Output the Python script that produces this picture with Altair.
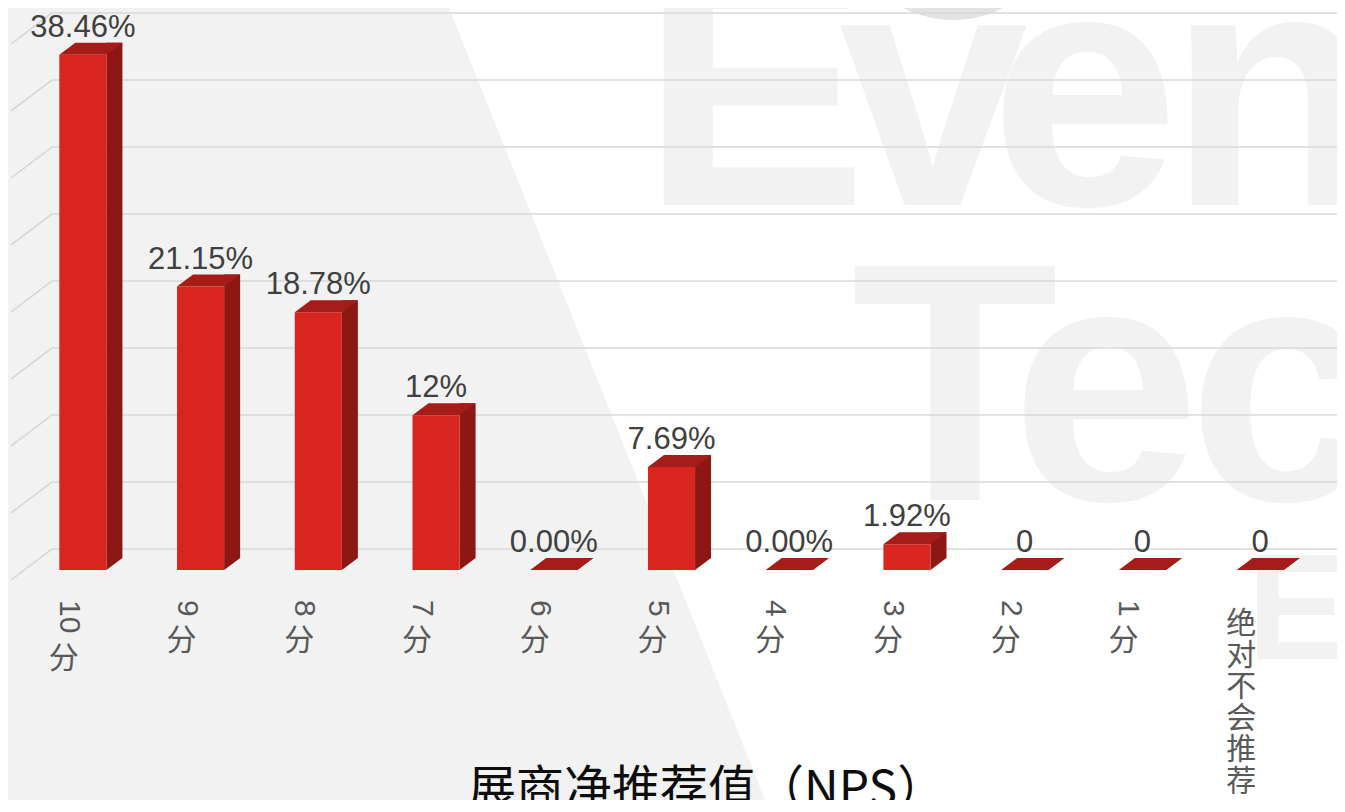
import altair as alt
import pandas as pd

# ---------------- data ----------------
categories = ["10分", "9分", "8分", "7分", "6分", "5分", "4分", "3分", "2分", "1分", "绝对不会推荐"]
values = [38.46, 21.15, 19.23, 11.54, 0, 7.69, 0, 1.92, 0, 0, 0]
value_labels = ["38.46%", "21.15%", "18.78%", "12%", "0.00%", "7.69%", "0.00%", "1.92%", "0", "0", "0"]
label_digits = ["10", "9", "8", "7", "6", "5", "4", "3", "2", "1", ""]
label_cjk = ["分"] * 10 + ["绝\n对\n不\n会\n推\n荐"]
grid_values = [0, 5, 10, 15, 20, 25, 30, 35, 40]
title_text = "展商净推荐值（NPS）"
watermark_letters = ["E", "v", "e", "n", "T", "e", "c", "E"]

df = pd.DataFrame({
    "cat": categories,
    "val": values,
    "zero": [0] * len(values),
    "lab": value_labels,
    "dig": label_digits,
    "cjk": label_cjk,
})
df["nd"] = df["dig"].str.len()
grid_df = pd.DataFrame({"g": grid_values})

# ---------------- layout ----------------
OX, OY = 24, 34          # page position of plot origin
W, H = 1295, 536
FRONT = "#D92520"
SIDE = "#8C1713"
TOP = "#A61C18"
HALF = 23.55             # half bar width (px)
DX, DY = 16, -12         # depth offset

xs = alt.Scale(domain=categories, paddingInner=0.6, paddingOuter=0.3)
ys = alt.Scale(domain=[0, 40], nice=False, zero=True)
X = alt.X("cat:N", scale=xs, axis=None)
Y = alt.Y("val:Q", scale=ys, axis=None)

one = pd.DataFrame({"k": [1]})


def px(v):
    return v - OX


def py(v):
    return v - OY


# white wedge of the background
wedge_path = "M {} {} L {} {} L {} {} L {} {} Z".format(
    px(442), py(-10), px(1400), py(-10), px(1400), py(850), px(785), py(850))
wedge = alt.Chart(one).mark_point(
    shape=wedge_path, size=4, filled=True, fill="#FFFFFF", opacity=1, strokeWidth=0
).encode(x=alt.value(0), y=alt.value(0))

blob = alt.Chart(one).mark_point(
    shape="circle", size=218 * 218, filled=True, opacity=1, strokeWidth=0, fill="#E3E3E3"
).encode(x=alt.value(px(953)), y=alt.value(py(-89)))

wm_pos = [(641, 205, 340), (839, 205, 340), (990, 205, 340), (1168, 205, 340),
          (851, 500, 340), (1011, 500, 340), (1188, 500, 340), (1247, 659, 150)]
wm_layers = []
for letter, (lx, ly, fs) in zip(watermark_letters, wm_pos):
    wm_layers.append(
        alt.Chart(one).mark_text(
            font="Liberation Sans", fontWeight="bold", fontSize=fs, color="#F2F2F2",
            align="left", baseline="alphabetic"
        ).encode(x=alt.value(px(lx)), y=alt.value(py(ly)), text=alt.value(letter))
    )

GY = alt.Y("g:Q", scale=ys, axis=None)
grid = alt.Chart(grid_df).mark_rule(color="#D9D9D9", strokeWidth=1.6, yOffset=-21).encode(
    x=alt.value(px(52)), x2=alt.value(px(1345)), y=GY)
diag = alt.Chart(grid_df).mark_rule(color="#D9D9D9", strokeWidth=1.6, yOffset=10, y2Offset=-21).encode(
    x=alt.value(px(11)), x2=alt.value(px(52)), y=GY, y2="g:Q")

base = alt.Chart(df)

side = base.mark_bar(color=SIDE, width=DX, xOffset=HALF + DX / 2, yOffset=DY, y2Offset=DY).encode(
    x=X, y=Y, y2="zero:Q")
side_tri = base.mark_point(
    shape="M {h} 0 L {a} {d} L {h} {d} Z".format(h=HALF, a=HALF + DX, d=DY),
    size=4, filled=True, fill=SIDE, opacity=1, strokeWidth=0
).encode(x=X, y=alt.Y("zero:Q", scale=ys, axis=None))
front = base.mark_bar(color=FRONT).encode(x=X, y=Y)
top = base.mark_point(
    shape="M {l} 0 L {h} 0 L {a} {d} L {b} {d} Z".format(l=-HALF, h=HALF, a=HALF + DX, b=-HALF + DX, d=DY),
    size=4, filled=True, fill=TOP, opacity=1, strokeWidth=0
).encode(x=X, y=Y)

vlabels = base.mark_text(
    font="Liberation Sans", fontSize=31, color="#404040", baseline="alphabetic", yOffset=-18
).encode(x=X, y=Y, text="lab:N")

digits = base.mark_text(
    font="Liberation Sans", fontSize=30, color="#595959", angle=90, align="left",
    baseline="middle", xOffset=-14
).encode(x=X, y=alt.value(py(600)), text="dig:N")

cjk_common = dict(font="Noto Sans CJK SC", fontSize=30, color="#595959",
                  baseline="alphabetic", lineHeight=31.5, lineBreak="\n", xOffset=-19)
cjk2 = alt.Chart(df[df["nd"] == 2]).mark_text(**cjk_common).encode(
    x=X, y=alt.value(py(668)), text="cjk:N")
cjk1 = alt.Chart(df[df["nd"] == 1]).mark_text(**cjk_common).encode(
    x=X, y=alt.value(py(650)), text="cjk:N")
cjk0 = alt.Chart(df[df["nd"] == 0]).mark_text(**cjk_common).encode(
    x=X, y=alt.value(py(633)), text="cjk:N")

title = alt.Chart(one).mark_text(
    font="Noto Sans CJK SC", fontSize=48, color="#0D0D0D", align="left", baseline="alphabetic"
).encode(x=alt.value(px(468)), y=alt.value(py(805)), text=alt.value(title_text))

chart = alt.layer(
    wedge, blob, *wm_layers, grid, diag, side, side_tri, front, top,
    vlabels, digits, cjk2, cjk1, cjk0, title
).properties(
    width=W, height=H,
    autosize=alt.AutoSizeParams(type="none"),
    padding={"left": 16, "top": 26, "right": 18, "bottom": 230},
    background="#F2F2F2",
).configure_view(stroke=None)

chart.save("out.html", embed_options={"renderer": "svg", "actions": False})
